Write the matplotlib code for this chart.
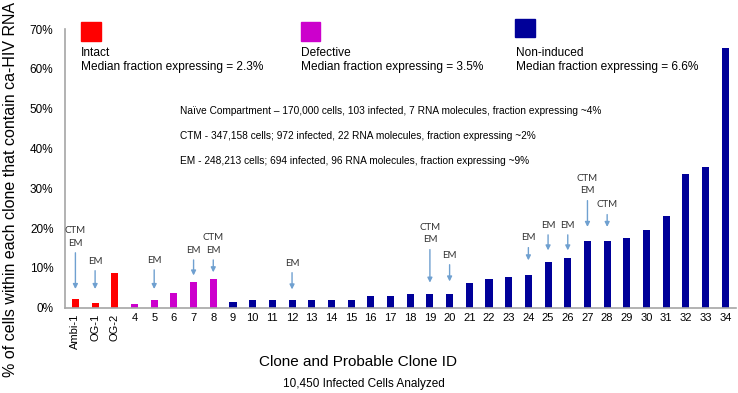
import matplotlib
matplotlib.use('Agg')
import matplotlib.pyplot as plt

plt.rcParams['font.family'] = ['Liberation Sans', 'DejaVu Sans']

# Clone labels and fraction expressing (%)
clones = ['Ambi-1', 'OG-1', 'OG-2', '4', '5', '6', '7', '8', '9', '10', '11', '12', '13', '14',
          '15', '16', '17', '18', '19', '20', '21', '22', '23', '24', '25', '26', '27', '28',
          '29', '30', '31', '32', '33', '34']
values = [2.3, 1.2, 8.8, 0.9, 1.9, 3.6, 6.5, 7.1, 1.4, 1.9, 1.9, 1.9, 1.9, 1.9,
          1.9, 3.0, 3.0, 3.5, 3.5, 3.5, 6.2, 7.1, 7.6, 8.1, 11.5, 12.4, 16.8, 16.8,
          17.5, 19.5, 23.0, 33.5, 35.4, 65.2]
groups = ['Intact'] * 3 + ['Defective'] * 5 + ['Non-induced'] * 26
group_colors = {'Intact': '#FF0000', 'Defective': '#CC00CC', 'Non-induced': '#000099'}

# Compartment annotations: (clone index, label, arrow tail %, arrow head %)
arrows = [(0, 'CTM\nEM', 14.5, 4.0), (1, 'EM', 10.0, 4.0), (4, 'EM', 10.2, 4.0),
          (6, 'EM', 12.7, 7.4), (7, 'CTM\nEM', 12.7, 8.2), (11, 'EM', 9.5, 3.9),
          (18, 'CTM\nEM', 15.3, 5.6), (19, 'EM', 11.5, 5.9), (23, 'EM', 15.8, 11.2),
          (24, 'EM', 19.0, 13.7), (25, 'EM', 19.0, 13.7), (26, 'CTM\nEM', 27.6, 19.6),
          (27, 'CTM', 24.1, 19.6)]

# legend entries: name, median text, x position (in bar units), square bottom/top (%)
legend_items = [('Intact', 'Median fraction expressing = 2.3%', 0.3, 67.0, 71.7),
                ('Defective', 'Median fraction expressing = 3.5%', 11.45, 67.0, 71.9),
                ('Non-induced', 'Median fraction expressing = 6.6%', 22.35, 67.9, 72.5)]

compartments = ['Naïve Compartment – 170,000 cells, 103 infected, 7 RNA molecules, fraction expressing ~4%',
                'CTM - 347,158 cells; 972 infected, 22 RNA molecules, fraction expressing ~2%',
                'EM - 248,213 cells; 694 infected, 96 RNA molecules, fraction expressing ~9%']

fig = plt.figure(figsize=(7.38, 3.93), dpi=100)
ax = fig.add_axes([0.0875, 0.217, 0.91, 0.709])

x = list(range(len(clones)))
ax.bar(x, values, width=0.36, color=[group_colors[g] for g in groups], zorder=2)
ax.set_xlim(-0.55, len(clones) - 0.45)
ax.set_ylim(0, 70)
ax.set_yticks(range(0, 71, 10))
ax.set_yticklabels([f'{v}%' for v in range(0, 71, 10)], fontsize=8.5)
ax.set_xticks(x)
ax.set_xticklabels(clones, fontsize=8)
for lbl, name in zip(ax.get_xticklabels(), clones):
    if not name.isdigit():
        lbl.set_rotation(90)
        lbl.set_va('top')
ax.tick_params(axis='x', length=0, pad=4)
ax.tick_params(axis='y', length=0, pad=8)

for side in ['top', 'right']:
    ax.spines[side].set_visible(False)
for side in ['left', 'bottom']:
    ax.spines[side].set_color('#A6A6A6')
    ax.spines[side].set_linewidth(1.2)

ax.set_ylabel('% of cells within each clone that contain ca-HIV RNA', fontsize=11.5)
ax.yaxis.set_label_coords(-0.070, 0.426)
ax.set_xlabel('Clone and Probable Clone ID', fontsize=11, va='center')
ax.xaxis.set_label_coords(0.437, -0.195)
fig.text(364 / 738, 1 - 384 / 393, '10,450 Infected Cells Analyzed', ha='center', va='center',
         fontsize=8.5, family=['Liberation Sans Narrow', 'Liberation Sans'])

# arrows with compartment labels
for i, lab, tail, head in arrows:
    ax.annotate('', xy=(i, head), xytext=(i, tail),
                arrowprops=dict(arrowstyle='-|>', color='#6FA0D0', lw=1, mutation_scale=7))
    ax.text(i, tail + 0.6, lab, ha='center', va='bottom', fontsize=7, family='Lato',
            linespacing=1.5, color='#333333')

# legend boxes
for name, median, xpos, y0, y1 in legend_items:
    ax.add_patch(plt.Rectangle((xpos - 0.02, y0), 1.0, y1 - y0, color=group_colors[name], clip_on=False))
    ax.text(xpos, 64.1, name, fontsize=8.6, va='center')
    ax.text(xpos, 60.5, median, fontsize=8.6, va='center')

for k, line in enumerate(compartments):
    ax.text(5.3, 49.5 - k * 6.3, line, fontsize=7.3, va='center',
            family=['Liberation Sans Narrow', 'Liberation Sans'])

fig.savefig('out.png', dpi=100)
